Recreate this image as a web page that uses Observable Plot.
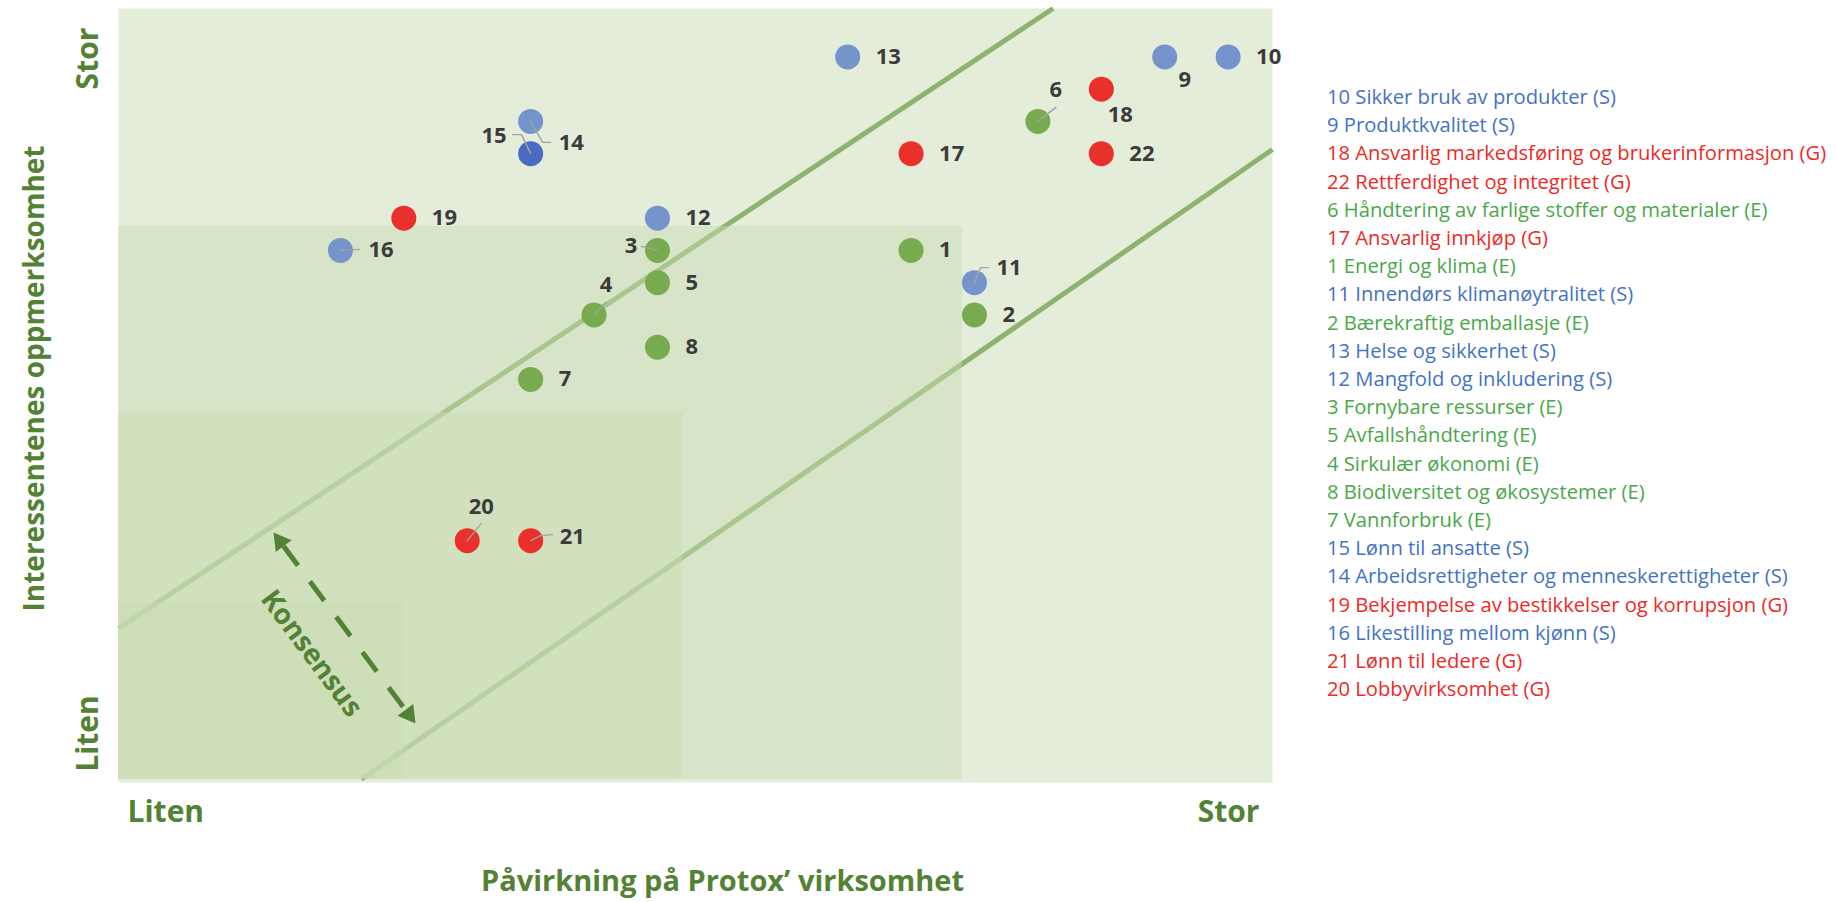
<!DOCTYPE html>
<html>
<head>
<meta charset="utf-8">
<script src="https://cdn.jsdelivr.net/npm/d3@7"></script>
<script src="https://cdn.jsdelivr.net/npm/@observablehq/plot@0.6"></script>
<style>
  html, body { margin: 0; padding: 0; background: #ffffff; }
  #wrap { position: relative; width: 1836px; height: 902px; overflow: hidden; }
  #legend { position: absolute; left: 1327px; top: 82px; font-family: "Open Sans", sans-serif; font-size: 20.2px; line-height: 28.2px; white-space: nowrap; }
</style>
</head>
<body>
<div id="wrap"><div id="chart"></div><div id="legend"></div></div>
<script>
// ---------------- DATA ----------------
const ids = [1, 2, 3, 4, 5, 6, 7, 8, 9, 10, 11, 12, 13, 14, 15, 16, 17, 18, 19, 20, 21, 22];
const topics = [
  "Energi og klima", "Bærekraftig emballasje", "Fornybare ressurser", "Sirkulær økonomi",
  "Avfallshåndtering", "Håndtering av farlige stoffer og materialer", "Vannforbruk",
  "Biodiversitet og økosystemer", "Produktkvalitet", "Sikker bruk av produkter",
  "Innendørs klimanøytralitet", "Mangfold og inkludering", "Helse og sikkerhet",
  "Arbeidsrettigheter og menneskerettigheter", "Lønn til ansatte", "Likestilling mellom kjønn",
  "Ansvarlig innkjøp", "Ansvarlig markedsføring og brukerinformasjon",
  "Bekjempelse av bestikkelser og korrupsjon", "Lobbyvirksomhet", "Lønn til ledere",
  "Rettferdighet og integritet"
];
const pillars = ["E", "E", "E", "E", "E", "E", "E", "E", "S", "S", "S", "S", "S", "S", "S", "S", "G", "G", "G", "G", "G", "G"];
// x: impact on the business, y: stakeholder attention
const impact    = [12.5, 13.5, 8.5, 7.5, 8.5, 14.5, 6.5, 8.5, 16.5, 17.5, 13.5, 8.5, 11.5, 6.5, 6.5, 3.5, 12.5, 15.5, 4.5, 5.5, 6.5, 15.5];
const attention = [16.5, 14.5, 16.5, 14.5, 15.5, 20.5, 12.5, 13.5, 22.5, 22.5, 15.5, 17.5, 22.5, 20.5, 19.5, 16.5, 19.5, 21.5, 17.5, 7.5, 7.5, 19.5];
const legendOrder = [10, 9, 18, 22, 6, 17, 1, 11, 2, 13, 12, 3, 5, 4, 8, 7, 15, 14, 19, 16, 21, 20];

const xDomain = [0, 18.2];
const yDomain = [0, 24];
// nested zones (right edge / top edge, in chart units)
const zoneRight = [13.31, 8.9, 4.5];
const zoneTop   = [17.24, 11.47, 5.58];
// consensus band lines [x1, y1, x2, y2]
const bandLineX1 = [0, 3.83];
const bandLineY1 = [4.78, 0.1];
const bandLineX2 = [14.74, 18.2];
const bandLineY2 = [24, 19.63];
// consensus arrow (tips), chart units
const arrowTipX = [2.445, 4.684];
const arrowTipY = [7.75, 1.83];
const consensusLabel = "Konsensus";
const xTickLabels = ["Liten", "Stor"];
const yTickLabels = ["Liten", "Stor"];
const xTitle = "Påvirkning på Protox’ virksomhet";
const yTitle = "Interessentenes oppmerksomhet";

// ---------------- LAYOUT / STYLE ----------------
const W = 1836, H = 902, ML = 118, MR = 564, MT = 8, MB = 120;
const pxPerX = (W - ML - MR) / (xDomain[1] - xDomain[0]);
const pxPerY = (H - MT - MB) / (yDomain[1] - yDomain[0]);
const FONT = "'Open Sans', sans-serif";
const AXIS_GREEN = "#548235";
const dotColor = {E: "#78ab50", S: "#7594cc", G: "#e9302a"};
const legendColor = {E: "#4aa84a", S: "#4472c4", G: "#ee2a26"};
const emphasisColor = "#4a6cc0";

const labelLayout = {
  3:  {dx: -20, dy: -4,  anchor: "end",    leader: [[-16, -4], [0, 0]]},
  4:  {dx: 12,  dy: -30, anchor: "middle", leader: [[0, 0], [12, -13]]},
  6:  {dx: 18,  dy: -31, anchor: "middle", leader: [[0, 0], [18, -14]]},
  9:  {dx: 20,  dy: 23,  anchor: "middle"},
  11: {dx: 22,  dy: -15, anchor: "start",  leader: [[0, 0], [6, -15], [14, -15]]},
  14: {dx: 28,  dy: 22,  anchor: "start",  leader: [[20, 21], [12, 21], [0, 0]]},
  15: {dx: -24, dy: -18, anchor: "end",    leader: [[-18, -19], [-9, -19], [0, 0]]},
  16: {dx: 28,  dy: 0,   anchor: "start",  leader: [[0, 0], [19, -1]]},
  18: {dx: 19,  dy: 26,  anchor: "middle"},
  20: {dx: 14,  dy: -34, anchor: "middle", leader: [[0, 0], [14, -17]]},
  21: {dx: 29,  dy: -4,  anchor: "start",  leader: [[0, 0], [10, -5], [22, -6]]}
};
const defaultLayout = {dx: 28, dy: 0, anchor: "start"};

// ---------------- BUILD ----------------
const points = ids.map((id, i) => ({id, topic: topics[i], pillar: pillars[i], x: impact[i], y: attention[i]}));
const byId = new Map(points.map(d => [d.id, d]));
const zones = zoneRight.map((r, i) => ({x1: xDomain[0], x2: r, y1: 0.1, y2: zoneTop[i]}));
const bandLines = bandLineX1.map((x1, i) => ({x1, y1: bandLineY1[i], x2: bandLineX2[i], y2: bandLineY2[i]}));

const leaders = [];
for (const d of points) {
  const L = labelLayout[d.id];
  if (L && L.leader) L.leader.forEach(([ox, oy]) => leaders.push({id: d.id, x: d.x + ox / pxPerX, y: d.y - oy / pxPerY}));
}

// arrow geometry (screen space helpers)
const ax = arrowTipX.map(v => ML + (v - xDomain[0]) * pxPerX);
const ay = arrowTipY.map(v => H - MB - (v - yDomain[0]) * pxPerY);
const len = Math.hypot(ax[1] - ax[0], ay[1] - ay[0]);
const ux = (ax[1] - ax[0]) / len, uy = (ay[1] - ay[0]) / len;
const toX = p => xDomain[0] + (p - ML) / pxPerX;
const toY = p => yDomain[0] + (H - MB - p) / pxPerY;
const headBase = 17, headCentroid = 11.3;
const shaft = [{
  x1: toX(ax[0] + ux * headBase), y1: toY(ay[0] + uy * headBase),
  x2: toX(ax[1] - ux * headBase), y2: toY(ay[1] - uy * headBase)
}];
const angle = Math.atan2(uy, ux) * 180 / Math.PI;
const heads = [
  {x: toX(ax[0] + ux * headCentroid), y: toY(ay[0] + uy * headCentroid), r: Math.atan2(-ux, uy) * 180 / Math.PI},
  {x: toX(ax[1] - ux * headCentroid), y: toY(ay[1] - uy * headCentroid), r: Math.atan2(ux, -uy) * 180 / Math.PI}
];
const consensusText = [{x: toX(311), y: toY(653), text: consensusLabel}];

const labelMarks = points.map(d => {
  const L = labelLayout[d.id] || defaultLayout;
  return Plot.text([d], {
    x: "x", y: "y", text: d => String(d.id), dx: L.dx, dy: L.dy, textAnchor: L.anchor,
    fontSize: 22, fontWeight: 700, fill: "#3b3b3b", fontFamily: FONT
  });
});

const axisText = {fontWeight: 700, fill: AXIS_GREEN, fontFamily: FONT, lineAnchor: "middle"};

const chart = Plot.plot({
  width: W, height: H,
  marginLeft: ML, marginRight: MR, marginTop: MT, marginBottom: MB,
  x: {domain: xDomain, axis: null},
  y: {domain: yDomain, axis: null},
  style: {fontFamily: FONT, background: "#ffffff", overflow: "visible"},
  marks: [
    Plot.frame({fill: "#e3edda", stroke: "none"}),
    Plot.link(bandLines, {x1: "x1", y1: "y1", x2: "x2", y2: "y2", stroke: "#8db36f", strokeWidth: 5}),
    Plot.rect(zones, {x1: "x1", x2: "x2", y1: "y1", y2: "y2", fill: "#c9dab2", fillOpacity: 0.47}),
    Plot.dot(points, {x: "x", y: "y", r: 12.5, fill: d => d.id === 15 ? emphasisColor : dotColor[d.pillar], stroke: "none"}),
    Plot.line(leaders, {x: "x", y: "y", z: "id", stroke: "#a3a3a3", strokeWidth: 1.4}),
    ...labelMarks,
    // consensus arrow
    Plot.link(shaft, {x1: "x1", y1: "y1", x2: "x2", y2: "y2", stroke: AXIS_GREEN, strokeWidth: 5, strokeDasharray: "24 20"}),
    Plot.dot(heads, {x: "x", y: "y", symbol: "triangle", r: 7.3, rotate: "r", fill: AXIS_GREEN, stroke: "none"}),
    Plot.text(consensusText, {x: "x", y: "y", text: "text", rotate: angle, fontSize: 28, ...axisText}),
    // axis end labels
    Plot.text([xTickLabels[0]], {frameAnchor: "bottom-left", text: d => d, textAnchor: "start", dx: 9, dy: 30, fontSize: 30, ...axisText}),
    Plot.text([xTickLabels[1]], {frameAnchor: "bottom-right", text: d => d, textAnchor: "end", dx: -13, dy: 30, fontSize: 30, ...axisText}),
    Plot.text([yTickLabels[1]], {frameAnchor: "top-left", text: d => d, textAnchor: "middle", rotate: -90, dx: -30, dy: 50, fontSize: 30, ...axisText}),
    Plot.text([yTickLabels[0]], {frameAnchor: "bottom-left", text: d => d, textAnchor: "middle", rotate: -90, dx: -30, dy: -49, fontSize: 30, ...axisText}),
    // axis titles
    Plot.text([xTitle], {frameAnchor: "bottom", text: d => d, textAnchor: "middle", dx: 27, dy: 99, fontSize: 29, ...axisText}),
    Plot.text([yTitle], {frameAnchor: "left", text: d => d, textAnchor: "middle", rotate: -90, dx: -83, dy: -17, fontSize: 28, ...axisText})
  ]
});
document.getElementById("chart").appendChild(chart);

// legend (HTML, right of the plot)
const legend = d3.select("#legend");
legendOrder.forEach(id => {
  const d = byId.get(id);
  legend.append("div").style("color", legendColor[d.pillar]).text(`${d.id} ${d.topic} (${d.pillar})`);
});
</script>
</body>
</html>
